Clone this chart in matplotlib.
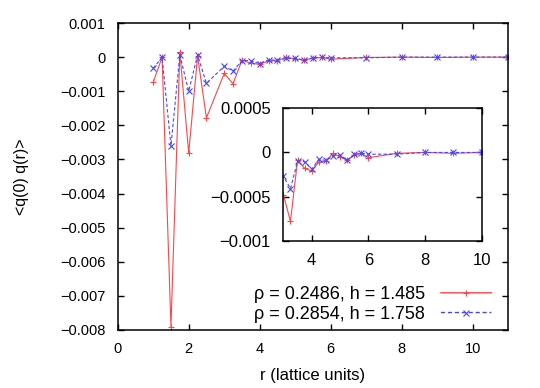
import matplotlib
matplotlib.use("Agg")
import matplotlib.pyplot as plt

plt.rcParams["font.family"] = ["Liberation Sans", "DejaVu Sans"]

# r values (lattice units)
r = [1, 1.25, 1.5, 1.75, 2, 2.25, 2.5, 3, 3.25, 3.5, 3.75, 4, 4.25, 4.5,
     4.75, 5, 5.25, 5.5, 5.75, 6, 7, 8, 9, 10, 11]

# rho = 0.2486, h = 1.485
q_a = [-0.00074, 0.0, -0.0079, 0.00014, -0.00281, 0.00003, -0.00178,
       -0.00048, -0.00078, -0.00009, -0.00018, -0.00021, -0.00011, -0.0001,
       -0.00001, -0.00005, -0.00009, -0.00003, -0.00001, -0.00006, -0.00001,
       0.0, -0.00001, 0.0, 0.0]

# rho = 0.2854, h = 1.758
q_b = [-0.00033, 0.0, -0.0026, 0.00006, -0.001, 0.00006, -0.00077,
       -0.00027, -0.00041, -0.0001, -0.000105, -0.00019, -0.00008, -0.00009,
       -0.00004, -0.00003, -0.00009, -0.00002, -0.00001, -0.00002, -0.00002,
       0.0, 0.0, 0.0, 0.0]

labels = ["ρ = 0.2486, h = 1.485", "ρ = 0.2854, h = 1.758"]

main_xticks = [0, 2, 4, 6, 8, 10]
main_yticks = [0.001, 0, -0.001, -0.002, -0.003, -0.004, -0.005, -0.006, -0.007, -0.008]
inset_xticks = [4, 6, 8, 10]
inset_yticks = [0.0005, 0, -0.0005, -0.001]

RED = "#ff4545"
BLUE = "#4545ff"


def style_axes(ax, size):
    ax.tick_params(direction="in", top=True, right=True, length=4, width=1,
                   labelsize=size, pad=9, colors="black")
    for s in ax.spines.values():
        s.set_linewidth(1.1)


def draw(ax):
    ax.plot(r, q_a, color=RED, lw=0.8, marker="+", ms=5, mew=0.8,
            label=labels[0])
    ax.plot(r, q_b, color=BLUE, lw=0.8, ls=(0, (3, 2)), marker="x", ms=4.5,
            mew=0.8, label=labels[1])


fig = plt.figure(figsize=(5.4, 3.88), dpi=100)
ax = fig.add_axes([0.218, 0.1495, 0.723, 0.7912])
draw(ax)
ax.set_xlim(0, 11)
ax.set_ylim(-0.008, 0.001)
ax.set_xticks(main_xticks)
ax.set_yticks(main_yticks)
ax.set_yticklabels(["0.001", "0", "−0.001", "−0.002", "−0.003", "−0.004",
                    "−0.005", "−0.006", "−0.007", "−0.008"])
style_axes(ax, 10.5)
ax.set_xlabel("r (lattice units)", fontsize=12)
ax.set_ylabel("<q(0) q(r)>", fontsize=11.5)
ax.xaxis.set_label_coords(0.5, -0.125)
ax.yaxis.set_label_coords(-0.228, 0.5)

leg = ax.legend(loc="lower right", bbox_to_anchor=(0.985, -0.012),
                frameon=False, markerfirst=False, fontsize=13,
                handlelength=2.8, handletextpad=0.9, labelspacing=0.15,
                borderpad=0.1, numpoints=1)
for line, col in zip(leg.get_lines(), [RED, BLUE]):
    line.set_color(col)
    line.set_linewidth(1.0)
    line.set_snap(False)

ins = fig.add_axes([0.5248, 0.3796, 0.3672, 0.3413])
draw(ins)
ins.set_xlim(3, 10)
ins.set_ylim(-0.001, 0.0005)
ins.set_xticks(inset_xticks)
ins.set_yticks(inset_yticks)
ins.set_yticklabels(["0.0005", "0", "−0.0005", "−0.001"])
style_axes(ins, 12)

fig.savefig("out.png", dpi=100)
